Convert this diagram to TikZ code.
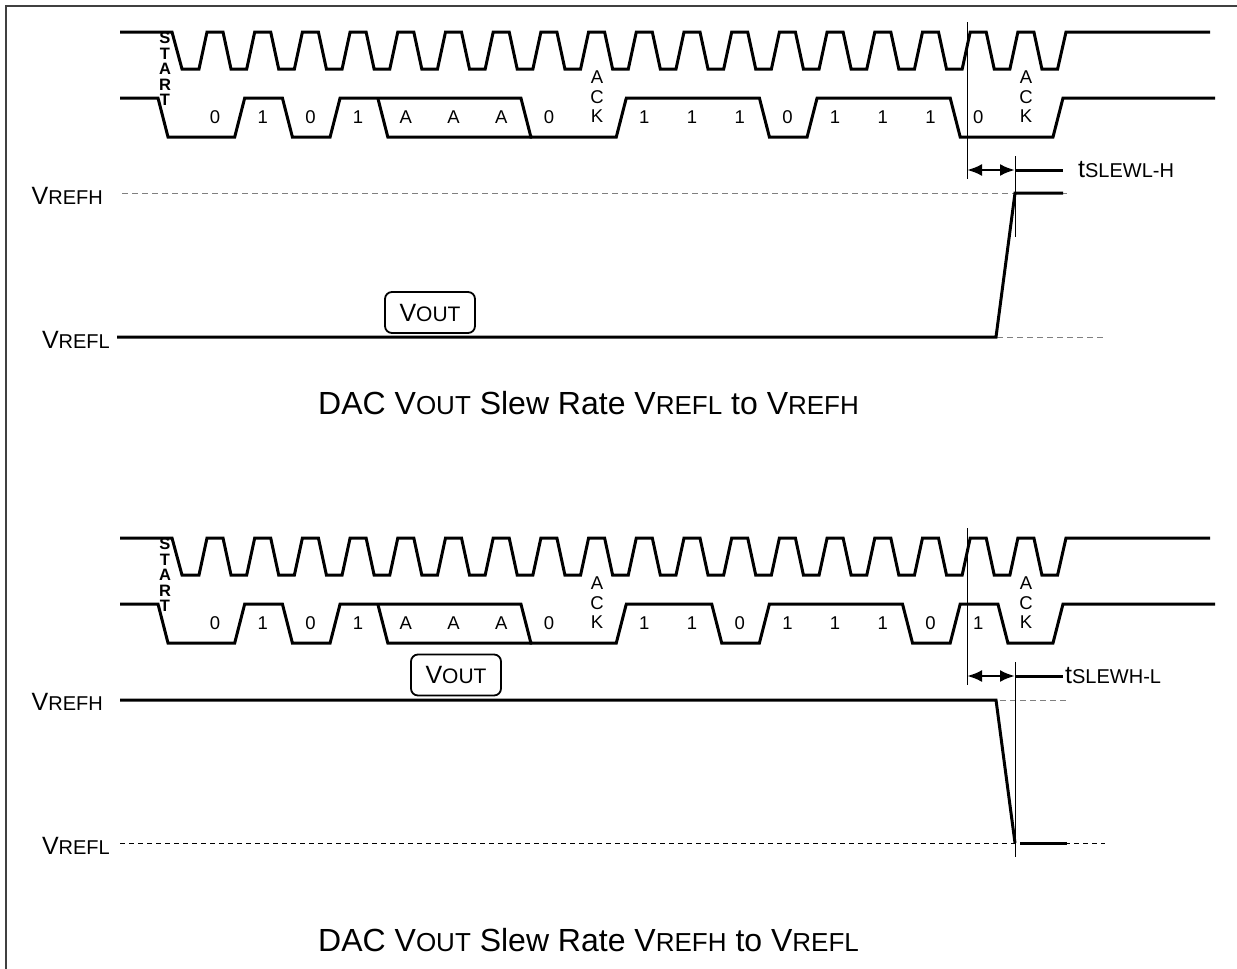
\documentclass[tikz,border=0pt]{standalone}
\usepackage{fontspec}
\setmainfont{Liberation Sans}
\usetikzlibrary{positioning,arrows.meta}
\newcommand{\smc}[2][20]{{\fontsize{#1}{#1}\selectfont #2}}

\begin{document}
\begin{tikzpicture}[x=1pt,y=-1pt,
  sig/.style={line width=3pt},
  thinline/.style={line width=1pt},
  refline/.style={line width=1pt,gray,dash pattern=on 6pt off 4pt},
  bit/.style={font=\fontsize{18.5}{19.5}\selectfont,inner sep=0pt,align=center},
  startlab/.style={font=\bfseries\fontsize{16.5}{15.6}\selectfont,inner sep=0pt,align=center},
  lab/.style={font=\fontsize{25}{25}\selectfont,inner sep=0pt},
  captionlab/.style={font=\fontsize{32}{32}\selectfont,inner sep=0pt,anchor=west},
  voutbox/.style={draw,line width=1.8pt,rounded corners=7pt,minimum width=90pt,minimum height=41pt,inner sep=0pt,font=\fontsize{25}{25}\selectfont},
  slew/.style={line width=2.6pt,{Latex[length=15pt,width=12pt]}-{Latex[length=15pt,width=12pt]}}]
\useasboundingbox (0,0) rectangle (1237,969);
\draw[line width=2pt,black!75] (1237,6) -- (6,6) -- (6,969);

\foreach \off in {0,506} {
\begin{scope}[yshift=-\off pt]
\node[startlab] (start\off) at (165,69) {S\\T\\A\\R\\T};
\draw[sig] (120,32) -- (172,32) -- (182,69) foreach \k in {0,...,17} { -- ({199+47.7*\k},69) -- ({207+47.7*\k},32) -- ({223+47.7*\k},32) -- ({231+47.7*\k},69) } -- (1057.6,69) -- (1066,32) -- (1210,32);
\draw[sig] (120,98) -- (158,98) -- (168,137) -- (234.7,137) -- (244.7,98) -- (282.4,98) -- (292.4,137) -- (330.1,137) -- (340.1,98) -- (520.9,98) -- (530.9,137) -- (616.3,137) -- (626.3,98);
\draw[sig] (377.8,98) -- (387.8,137) -- (532,137);
\foreach \k/\b in {0/0,1/1,2/0,3/1,4/A,5/A,6/A,7/0}
  \node[bit] (bit\k-\off) at ({215+47.7*\k},117) {\b};
\node[bit] (ackone\off) at (597,97) {A\\C\\K};
\node[bit] (acktwo\off) at (1026,97) {A\\C\\K};
\draw[thinline] (967,22) -- (967,179);
\end{scope}
}

\draw[sig] (625,98) -- (759.4,98) -- (769.4,137) -- (807.1,137) -- (817.1,98) -- (950.2,98) -- (960.2,137) -- (1053,137) -- (1063,98) -- (1215,98);
\foreach \k/\b in {9/1,10/1,11/1,12/0,13/1,14/1,15/1,16/0}
  \node[bit] (bitA\k) at ({215+47.7*\k},117) {\b};

\draw[sig] (625,604) -- (711.7,604) -- (721.7,643) -- (759.4,643) -- (769.4,604) -- (902.5,604) -- (912.5,643) -- (950.2,643) -- (960.2,604) -- (997.9,604) -- (1007.9,643) -- (1053,643) -- (1063,604) -- (1215,604);
\foreach \k/\b in {9/1,10/1,11/0,12/1,13/1,14/1,15/0,16/1}
  \node[bit] (bitB\k) at ({215+47.7*\k},623) {\b};

\draw[refline] (122,193) -- (1067,193);
\draw[refline] (997,337) -- (1105,337);
\draw[sig] (117,337) -- (996,337) -- (1015,193) -- (1063,193);
\node[lab,anchor=east] (vrefhA) at (103,196) {V\smc{REFH}};
\node[lab,anchor=east] (vreflA) at (110,340) {V\smc{REFL}};
\node[voutbox] (voutA) at (430,312.5) {V\smc[21]{OUT}};
\draw[thinline] (1015,156) -- (1015,237);
\coordinate (tA1) at (967,170);
\coordinate (tA2) at (1015,170);
\draw[slew] (tA1) -- (tA2);
\draw[sig] (tA2) -- ++(48,0);
\node[lab,anchor=west] (tslewA) at (1078,170) {t\smc{SLEWL-H}};
\node[captionlab] (capA) at (318,403) {DAC V\smc[26]{OUT} Slew Rate V\smc[26]{REFL} to V\smc[26]{REFH}};

\draw[refline] (1000,700) -- (1067,700);
\draw[refline,black,line width=0.8pt,dash pattern=on 5pt off 4pt] (120,843) -- (1105,843);
\draw[sig] (120,700) -- (996,700) -- (1015,843);
\draw[sig] (1020,843) -- (1067,843);
\node[lab,anchor=east] (vrefhB) at (103,702) {V\smc{REFH}};
\node[lab,anchor=east] (vreflB) at (110,846) {V\smc{REFL}};
\node[voutbox] (voutB) at (456,675) {V\smc[21]{OUT}};
\draw[thinline] (1015,662) -- (1015,857);
\coordinate (tB1) at (967,676);
\coordinate (tB2) at (1015,676);
\draw[slew] (tB1) -- (tB2);
\draw[sig] (tB2) -- ++(48,0);
\node[lab,anchor=west] (tslewB) at (1065,676) {t\smc{SLEWH-L}};
\node[captionlab] (capB) at (318,940) {DAC V\smc[26]{OUT} Slew Rate V\smc[26]{REFH} to V\smc[26]{REFL}};
\end{tikzpicture}
\end{document}
